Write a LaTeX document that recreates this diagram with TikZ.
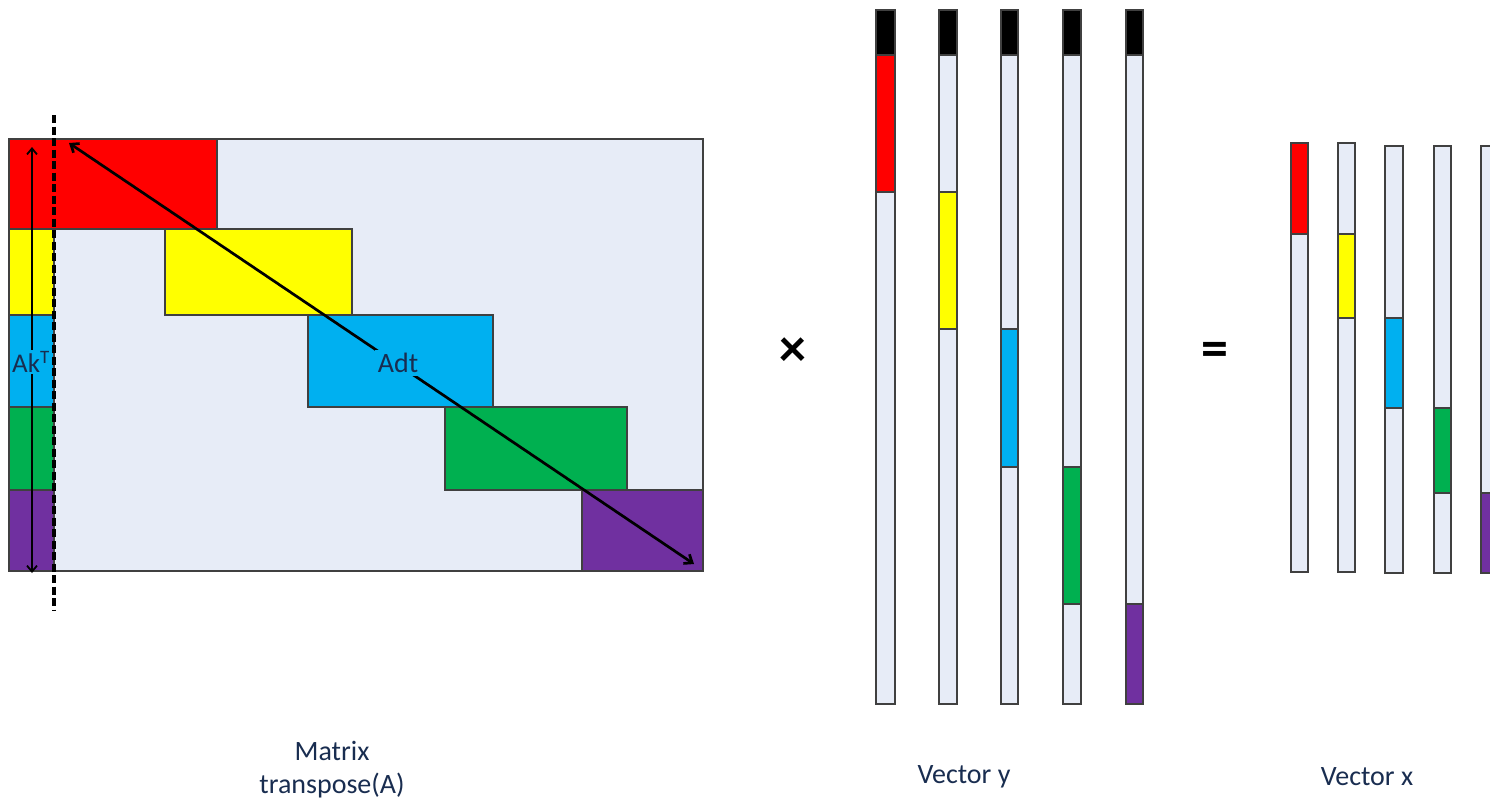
\documentclass[tikz,border=0pt]{standalone}
\usepackage{fontspec}
\setmainfont{Carlito}
\usetikzlibrary{arrows.meta}
\definecolor{cred}{RGB}{255,0,0}
\definecolor{cyel}{RGB}{255,255,0}
\definecolor{cblu}{RGB}{0,176,240}
\definecolor{cgrn}{RGB}{0,176,80}
\definecolor{cpur}{RGB}{112,48,160}
\definecolor{clight}{RGB}{231,236,247}
\definecolor{cedge}{RGB}{64,64,64}
\definecolor{ctext}{RGB}{25,45,80}
\begin{document}
\begin{tikzpicture}[x=1pt,y=-1pt,
  blk/.style={draw=cedge,line width=1.4pt},
  lbl/.style={font=\fontsize{28}{33}\selectfont,text=ctext,align=center,inner sep=1pt},
  op/.style={font=\fontsize{54}{54}\selectfont\bfseries,text=black,inner sep=0pt},
  conn/.style={line width=2.7pt,{Straight Barb[length=7pt,width=11pt]}-{Straight Barb[length=7pt,width=11pt]}},
  vconn/.style={line width=1.8pt,{Straight Barb[length=6pt,width=10pt]}-{Straight Barb[length=6pt,width=10pt]}}]
\useasboundingbox (0,0) rectangle (1490,807);
% matrix
\draw[blk,fill=clight] (9,139) rectangle (703,571);
\draw[blk,fill=cred] (9,139) rectangle (217,229);
\draw[blk,fill=cyel] (165,229) rectangle (352,315);
\draw[blk,fill=cblu] (308,315) rectangle (493,407);
\draw[blk,fill=cgrn] (445,407) rectangle (627,490);
\draw[blk,fill=cpur] (582,490) rectangle (703,571);
% left strip
\draw[blk,fill=cyel] (9,229) rectangle (54,315);
\draw[blk,fill=cblu] (9,315) rectangle (54,407);
\draw[blk,fill=cgrn] (9,407) rectangle (54,490);
\draw[blk,fill=cpur] (9,490) rectangle (54,571);
% diagonal arrow
\coordinate (d1) at (69,143);
\coordinate (d2) at (694,564);
\draw[conn] (d1) -- (d2);
\node[lbl,fill=cblu,inner sep=3pt] (adt) at (398,363) {Adt};
% vertical arrow
\coordinate (v1) at (32,147);
\coordinate (v2) at (32,573);
\draw[vconn] (v1) -- (v2);
\node[lbl,fill=cblu,inner sep=1pt,font=\fontsize{27}{30}\selectfont] (ak) at (31,362) {Ak\textsuperscript{T}};
% dashed line
\coordinate (k1) at (54,115);
\coordinate (k2) at (54,611);
\draw[line width=3.8pt,dash pattern=on 8pt off 3.5pt] (k1) -- (k2);
% operators
\node[op] (times) at (793,352) {×};
\node[op] (eq) at (1215,354) {=};
% vector y
\foreach \xl/\xr/\ct/\cb/\cc [count=\i] in {876/895/55/192/cred, 939/957/192/329/cyel, 1001/1018/329/467/cblu, 1063/1081/467/604/cgrn, 1126/1143/604/704/cpur}{
  \draw[blk,fill=clight] (\xl,55) rectangle (\xr,704);
  \draw[blk,fill=\cc] (\xl,\ct) rectangle (\xr,\cb);
  \draw[blk,fill=black] (\xl,10) rectangle (\xr,55);
}
% vector x
\foreach \xl/\xr/\yt/\yb/\ct/\cb/\cc in {1291/1308/143/572/143/234/cred, 1338/1355/143/572/234/318/cyel, 1385/1403/146/573/318/408/cblu, 1434/1451/146/573/408/493/cgrn, 1481/1498/146/573/493/573/cpur}{
  \draw[blk,fill=clight] (\xl,\yt) rectangle (\xr,\yb);
  \draw[blk,fill=\cc] (\xl,\ct) rectangle (\xr,\cb);
}
% captions
\node[lbl] (capA) at (332,770) {Matrix\\transpose(A)};
\node[lbl] (capY) at (964,777) {Vector y};
\node[lbl] (capX) at (1367,777) {Vector x};
\end{tikzpicture}
\end{document}
